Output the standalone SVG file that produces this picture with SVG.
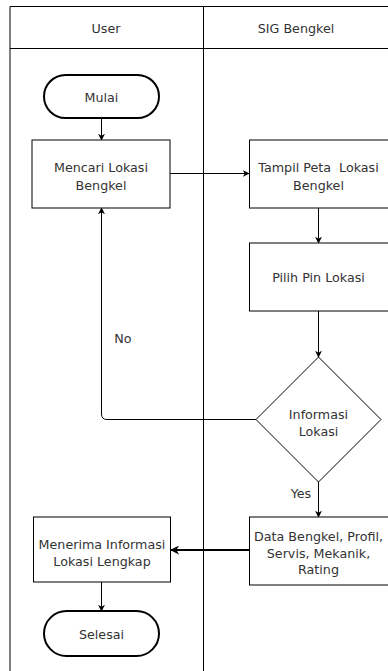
<svg xmlns="http://www.w3.org/2000/svg" width="388" height="671" viewBox="0 0 388 671">
<defs>
<marker id="ah" viewBox="0 0 10 10" refX="9" refY="5" markerWidth="7" markerHeight="7" markerUnits="userSpaceOnUse" orient="auto"><path d="M0,0 L10,5 L0,10 L3,5 Z" fill="#000"/></marker>
<marker id="ah2" viewBox="0 0 10 10" refX="9" refY="5" markerWidth="9" markerHeight="9" markerUnits="userSpaceOnUse" orient="auto"><path d="M0,0 L10,5 L0,10 L3,5 Z" fill="#000"/></marker>
</defs>
<style>
text{font-family:"DejaVu Sans","Liberation Sans",sans-serif;font-size:12.7px;fill:#333;text-anchor:middle;white-space:pre}
.box{fill:#fff;stroke:#000;stroke-width:1}
.term{fill:#fff;stroke:#000;stroke-width:2}
.lane{fill:none;stroke:#000;stroke-width:1}
.c{fill:none;stroke:#000;stroke-width:1}
</style>
<rect width="388" height="671" fill="#fff"/>
<g id="lanes">
<path class="lane" d="M10,672 V6.5 H390 M203.5,6.5 V672 M10,48.5 H390"/>
<text x="106" y="33">User</text>
<text x="296" y="33">SIG Bengkel</text>
</g>
<g id="connectors">
<path class="c" d="M101.5,118 V140" marker-end="url(#ah)"/>
<path class="c" d="M170,173.5 H249" marker-end="url(#ah)"/>
<path class="c" d="M318.5,208 V243" marker-end="url(#ah)"/>
<path class="c" d="M318.5,311 V357" marker-end="url(#ah)"/>
<path class="c" d="M256,419.5 H107 Q101.5,419.5 101.5,414 V208" marker-end="url(#ah)"/>
<path class="c" d="M318.5,482 V517" marker-end="url(#ah)"/>
<path class="c" d="M249,550 H171" style="stroke-width:2" marker-end="url(#ah2)"/>
<path class="c" d="M101.5,582 V611" marker-end="url(#ah)"/>
<text x="123" y="343">No</text>
<text x="301" y="498">Yes</text>
</g>
<g id="mulai">
<rect class="term" x="44" y="75" width="115" height="43" rx="21.5"/>
<text x="101.5" y="102">Mulai</text>
</g>
<g id="mencari">
<rect class="box" x="32" y="140" width="138" height="68"/>
<text x="101" y="172">Mencari Lokasi</text>
<text x="101" y="190">Bengkel</text>
</g>
<g id="tampil">
<rect class="box" x="249.5" y="140" width="140" height="68"/>
<text x="318.5" y="172" xml:space="preserve">Tampil Peta  Lokasi</text>
<text x="318.5" y="190">Bengkel</text>
</g>
<g id="pilih">
<rect class="box" x="249.5" y="243" width="140" height="68"/>
<text x="318.5" y="282">Pilih Pin Lokasi</text>
</g>
<g id="informasi">
<path class="box" d="M318.5,357 L381,419.5 L318.5,482 L256,419.5 Z"/>
<text x="318.5" y="419">Informasi</text>
<text x="318.5" y="436">Lokasi</text>
</g>
<g id="data">
<rect class="box" x="249.5" y="517" width="140" height="68"/>
<text x="318.5" y="541">Data Bengkel, Profil,</text>
<text x="318.5" y="558">Servis, Mekanik,</text>
<text x="318.5" y="574">Rating</text>
</g>
<g id="menerima">
<rect class="box" x="33.5" y="517" width="137" height="65"/>
<text x="102" y="549">Menerima Informasi</text>
<text x="102" y="566">Lokasi Lengkap</text>
</g>
<g id="selesai">
<rect class="term" x="44" y="611" width="115" height="45" rx="22.5"/>
<text x="101.5" y="639">Selesai</text>
</g>
</svg>
